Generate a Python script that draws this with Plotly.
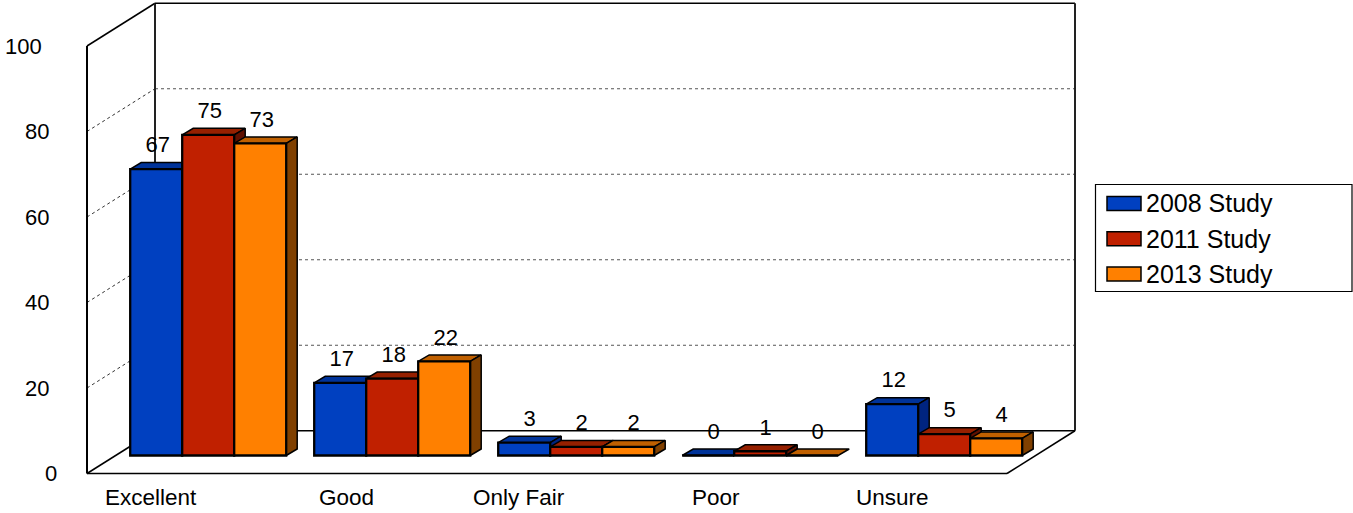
import plotly.graph_objects as go

categories = ["Excellent", "Good", "Only Fair", "Poor", "Unsure"]
series_names = ["2008 Study", "2011 Study", "2013 Study"]
values_2008 = [67, 17, 3, 0, 12]
values_2011 = [75, 18, 2, 1, 5]
values_2013 = [73, 22, 2, 0, 4]
all_values = [values_2008, values_2011, values_2013]
front_colors = ["#0040C0", "#C02000", "#FF8000"]
top_colors = ["#003399", "#962000", "#C06000"]
side_colors = ["#002480", "#601000", "#804000"]
ticks = [0, 20, 40, 60, 80, 100]
label_centers_px = [150.5, 346, 519, 716, 892.5]

W, H = 1353, 513
PX_PER_CAT = 184.0
CAT0_PX = 208.2
PX_PER_UNIT = 4.275
BAR_BASE_PX = 455.5
FRONT_BASE_PX = 473.5
BAR_PX = 52.0
DX, DY = 11.0, 6.5
FONT = "Liberation Sans"


def cx(px):
    return (px - CAT0_PX) / PX_PER_CAT


x_range = [cx(0), cx(W)]
y_range = [(BAR_BASE_PX - H) / PX_PER_UNIT, BAR_BASE_PX / PX_PER_UNIT]
wall_range = [(FRONT_BASE_PX - H) / PX_PER_UNIT, FRONT_BASE_PX / PX_PER_UNIT]
bw = BAR_PX / PX_PER_CAT
dx = DX / PX_PER_CAT
dy = DY / PX_PER_UNIT
back_dx = 68 / PX_PER_CAT
back_dv = 10.0
x_front_l, x_front_r = cx(87), cx(1007)

fig = go.Figure()

# top and side faces: drawn under the front faces, series by series
for s, vals in enumerate(all_values):
    for c, v in enumerate(vals):
        x0 = c + (s - 1.5) * bw
        x1 = x0 + bw
        fig.add_trace(go.Scatter(
            x=[x0, x1, x1 + dx, x0 + dx, x0], y=[v, v, v + dy, v + dy, v],
            mode="lines", fill="toself", fillcolor=top_colors[s],
            line=dict(color="#000000", width=1.5), hoverinfo="skip", showlegend=False))
        if v > 0:
            fig.add_trace(go.Scatter(
                x=[x1, x1 + dx, x1 + dx, x1, x1], y=[0, dy, v + dy, v, 0],
                mode="lines", fill="toself", fillcolor=side_colors[s],
                line=dict(color="#000000", width=1.5), hoverinfo="skip", showlegend=False))

# front faces on an overlaying pair of axes
for s, vals in enumerate(all_values):
    fig.add_trace(go.Bar(
        x=list(range(len(categories))), y=vals, name=series_names[s],
        marker=dict(color=front_colors[s], line=dict(color="#000000", width=2.3)),
        xaxis="x2", yaxis="y2", showlegend=False))

# value labels: centred over each bar, two-digit labels sit slightly further left
for s, vals in enumerate(all_values):
    fig.add_trace(go.Scatter(
        x=[c + (s - 1) * bw + (5.5 - 4 * (len(str(v)) - 1)) / PX_PER_CAT
           for c, v in enumerate(vals)],
        y=[v + 5.2 for v in vals], text=[str(v) for v in vals], mode="text",
        textposition="middle center",
        textfont=dict(family=FONT, size=22, color="#000000"),
        xaxis="x2", yaxis="y2", hoverinfo="skip", showlegend=False))

shapes = []


def wall(x0, y0, x1, y1, width=1.5, color="#000000", dash="solid"):
    shapes.append(dict(type="line", xref="x", yref="y3", x0=x0, y0=y0, x1=x1, y1=y1,
                       layer="below", line=dict(color=color, width=width, dash=dash)))


for t in ticks[1:-1]:
    wall(x_front_l, t, x_front_l + back_dx, t + back_dv, 1, "#333333", "dot")
    wall(x_front_l + back_dx, t + back_dv, x_front_r + back_dx, t + back_dv, 1, "#555555", "dot")
wall(x_front_l, 0, x_front_l, 100, 2)
wall(x_front_l, 100, x_front_l + back_dx, 100 + back_dv)
wall(x_front_l + back_dx, back_dv, x_front_l + back_dx, 100 + back_dv, 2, "#222222")
wall(x_front_l + back_dx, 100 + back_dv, x_front_r + back_dx, 100 + back_dv, 1.5)
wall(x_front_r + back_dx, back_dv, x_front_r + back_dx, 100 + back_dv, 2, "#222222")
wall(x_front_l, 0, x_front_r, 0, 1.5)
wall(x_front_l, 0, x_front_l + back_dx, back_dv)
wall(x_front_l + back_dx, back_dv, x_front_r + back_dx, back_dv)
wall(x_front_r, 0, x_front_r + back_dx, back_dv)

annotations = []
# value-axis labels, stepped left by digit count as in the reference
for t in ticks:
    label = str(t)
    annotations.append(dict(text=label, x=(66 - 8 * len(label) + (1 if len(label) == 3 else 0)) / W,
                            y=t, xref="paper", yref="y3",
                            xanchor="right", yanchor="middle", showarrow=False, borderpad=0,
                            font=dict(family=FONT, size=22, color="#000000")))
for name, px in zip(categories, label_centers_px):
    annotations.append(dict(text=name, x=px / W, y=1 - 497 / H, xref="paper", yref="paper",
                            xanchor="center", yanchor="middle", showarrow=False,
                            font=dict(family=FONT, size=22.5, color="#000000")))

# legend box
shapes.append(dict(type="rect", xref="paper", yref="paper", x0=1095.5 / W, x1=1352 / W,
                   y0=1 - 291.5 / H, y1=1 - 184.5 / H, layer="above",
                   line=dict(color="#000000", width=1.2), fillcolor="#FFFFFF"))
for s, name in enumerate(series_names):
    yc = 203.5 + 35.2 * s
    shapes.append(dict(type="rect", xref="paper", yref="paper", x0=1107 / W, x1=1141 / W,
                       y0=1 - (yc + 7) / H, y1=1 - (yc - 7) / H, layer="above",
                       line=dict(color="#000000", width=1.5), fillcolor=front_colors[s]))
    annotations.append(dict(text=name, x=1144.5 / W, y=1 - yc / H, xref="paper", yref="paper",
                            xanchor="left", yanchor="middle", showarrow=False, borderpad=0,
                            font=dict(family=FONT, size=25, color="#000000")))

hidden = dict(visible=False, fixedrange=True)
fig.update_layout(
    width=W, height=H, margin=dict(l=0, r=0, t=0, b=0),
    paper_bgcolor="#FFFFFF", plot_bgcolor="rgba(0,0,0,0)",
    barmode="group", bargap=1 - 3 * bw, bargroupgap=0,
    showlegend=False, shapes=shapes, annotations=annotations,
    xaxis=dict(range=x_range, domain=[0, 1], **hidden),
    yaxis=dict(range=y_range, domain=[0, 1], **hidden),
    xaxis2=dict(range=x_range, overlaying="x", anchor="y2", **hidden),
    yaxis2=dict(range=y_range, overlaying="y", anchor="x2", **hidden),
    yaxis3=dict(range=wall_range, overlaying="y", anchor="x2", **hidden),
)

fig.write_html("out.html", config=dict(displayModeBar=False),
               post_script="document.body.style.margin='0';")
